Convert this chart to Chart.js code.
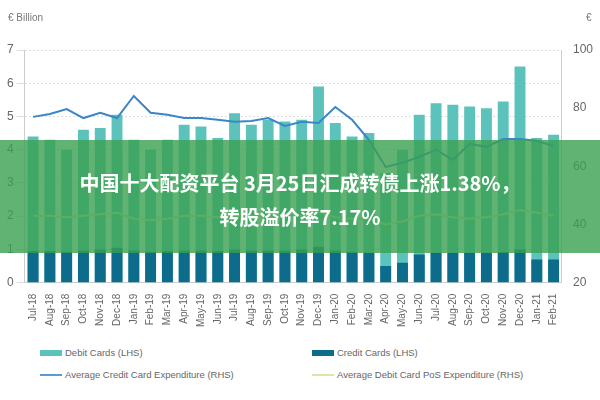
<!DOCTYPE html>
<html><head><meta charset="utf-8">
<script src="https://cdn.jsdelivr.net/npm/chart.js@4"></script>
<style>
body{margin:0;width:600px;height:400px;background:#fff;font-family:"Liberation Sans",sans-serif;position:relative;overflow:hidden}
#wrap{position:absolute;left:0;top:0;width:600px;height:330px}
.unit{position:absolute;top:12px;font-size:10px;color:#777}
#legend{position:absolute;top:347px;left:40px;width:560px;font-size:9.5px;color:#666}
.li{position:absolute;display:flex;align-items:center;white-space:nowrap}
.sw{display:inline-block;width:22px;margin-right:3px}
#banner{position:absolute;left:0;top:140px;width:600px;height:113px;background:rgba(58,160,80,0.8);color:#fff;font-family:"Noto Sans CJK SC",sans-serif;font-weight:bold;font-size:20px;text-align:center;line-height:34px;padding-top:26px;box-sizing:border-box}
</style></head><body>
<div id="wrap"><canvas id="c"></canvas></div>
<div class="unit" style="left:8px">€ Billion</div>
<div class="unit" style="left:586px">€</div>
<div id="legend">
  <div class="li" style="left:0;top:0"><span class="sw" style="height:6px;background:#5cc3bc"></span>Debit Cards (LHS)</div>
  <div class="li" style="left:272px;top:0"><span class="sw" style="height:6px;background:#0d6b8c"></span>Credit Cards (LHS)</div>
  <div class="li" style="left:0;top:22px"><span class="sw" style="height:2px;background:#5b9bd5"></span>Average Credit Card Expenditure (RHS)</div>
  <div class="li" style="left:272px;top:22px"><span class="sw" style="height:2px;background:#d9e8a8"></span>Average Debit Card PoS Expenditure (RHS)</div>
</div>
<div id="banner">中国十大配资平台 3月25日汇成转债上涨1.38%，<br>转股溢价率7.17%</div>
<script>
const months = ["Jul-18","Aug-18","Sep-18","Oct-18","Nov-18","Dec-18","Jan-19","Feb-19","Mar-19","Apr-19","May-19","Jun-19","Jul-19","Aug-19","Sep-19","Oct-19","Nov-19","Dec-19","Jan-20","Feb-20","Mar-20","Apr-20","May-20","Jun-20","Jul-20","Aug-20","Sep-20","Oct-20","Nov-20","Dec-20","Jan-21","Feb-21"];
const debitCards = [4.4,4.3,4.0,4.6,4.65,5.05,4.3,4.0,4.3,4.75,4.7,4.35,5.1,4.75,4.9,4.85,4.9,5.9,4.8,4.4,4.5,3.3,4.0,5.05,5.4,5.35,5.3,5.25,5.45,6.5,4.35,4.45];
const creditCards = [0.95,0.95,0.93,0.97,1.0,1.05,0.97,0.93,0.95,0.97,0.97,0.95,1.0,0.97,0.97,0.97,1.0,1.08,0.97,0.93,0.9,0.5,0.6,0.85,0.9,0.9,0.9,0.9,0.92,1.0,0.7,0.7];
const avgCredit = [77,78,79.7,76.6,78.4,76.6,84.2,78.4,77.7,76.6,76.6,76,75.3,75.6,76.6,73.9,75.3,74.9,80.4,76,69.1,59.8,61.2,63.3,65.7,62.2,67.7,66.7,69.4,69.4,68.8,67];
const avgDebitPos = [43,43,42.5,43,43.5,44,42,41.5,42,43,43,42.5,43,43,42.5,43,43,44.5,42.5,42,42,40,41,43,43.5,42.5,42,42.5,43.5,45,44,43];

new Chart(document.getElementById("c"), {
  data: {
    labels: months,
    datasets: [
      {type:"line", data:avgCredit, yAxisID:"y2", borderColor:"#3a86c8", borderWidth:2, pointRadius:0, tension:0, order:0},
      {type:"line", data:avgDebitPos, yAxisID:"y2", borderColor:"#d9e8a8", borderWidth:2, pointRadius:0, tension:0, order:0},
      {type:"bar", data:creditCards, yAxisID:"y", backgroundColor:"#0d6b8c", barPercentage:0.65, categoryPercentage:1, order:1},
      {type:"bar", data:debitCards, yAxisID:"y", backgroundColor:"#5cc3bc", barPercentage:0.65, categoryPercentage:1, order:2}
    ]
  },
  options: {
    responsive:true, maintainAspectRatio:false, animation:false,
    layout:{padding:{top:50,left:4,right:4}},
    plugins:{legend:{display:false}, tooltip:{enabled:false}},
    scales:{
      x:{stacked:true, grid:{display:false}, border:{color:"#ccc"},
         ticks:{color:"#666", font:{size:10}, maxRotation:90, minRotation:90, autoSkip:false}},
      y:{min:0, max:7, position:"left", ticks:{stepSize:1, color:"#666", font:{size:12}},
         grid:{color:"#ddd", borderDash:[2,2]}, border:{color:"#ccc", dash:[2,2]}},
      y2:{min:20, max:100, position:"right", ticks:{stepSize:20, color:"#666", font:{size:12}},
         grid:{display:false}, border:{color:"#ccc"}}
    }
  }
});
</script>
</body></html>
